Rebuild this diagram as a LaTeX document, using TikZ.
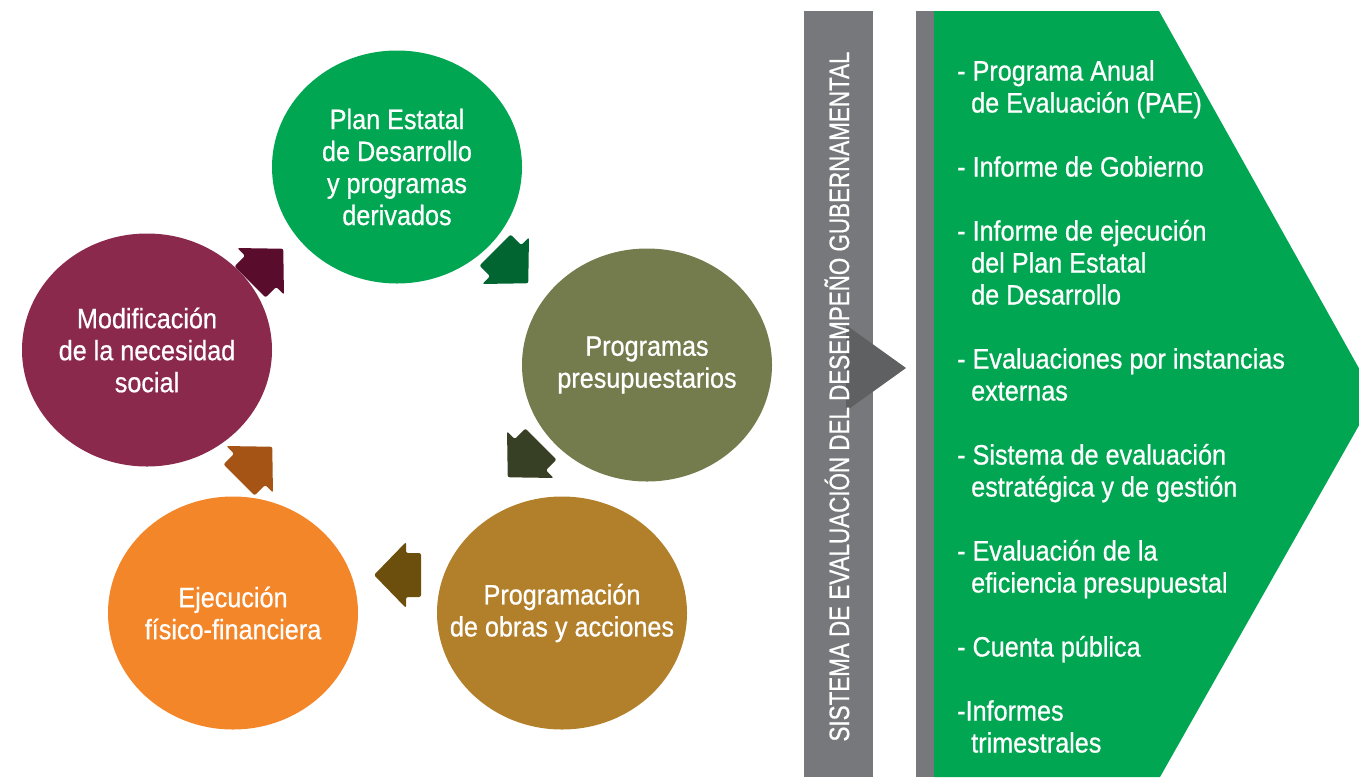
\documentclass[tikz,border=0pt]{standalone}
\usepackage{fontspec}
\setmainfont[FakeStretch=0.9,FakeBold=0.7]{Liberation Sans}
\newfontfamily\barfont[FakeStretch=0.8,FakeBold=0.7]{Liberation Sans}
\usetikzlibrary{shapes.geometric}

\definecolor{verde}{RGB}{0,166,81}
\definecolor{verdeosc}{RGB}{0,101,48}
\definecolor{olivo}{RGB}{116,124,78}
\definecolor{olivoosc}{RGB}{55,64,36}
\definecolor{ocre}{RGB}{178,128,42}
\definecolor{ocreosc}{RGB}{108,79,12}
\definecolor{naranja}{RGB}{244,134,42}
\definecolor{naranjaosc}{RGB}{165,84,22}
\definecolor{guinda}{RGB}{139,41,76}
\definecolor{guindaosc}{RGB}{90,12,44}
\definecolor{grisbarra}{RGB}{119,120,123}
\definecolor{grisosc}{RGB}{95,96,98}

\newcommand{\sangria}{\hspace*{14pt}}

\tikzset{
	blob/.style={ellipse,minimum width=250pt,minimum height=233pt,inner sep=0pt},
	lbl/.style={text=white,align=center,font=\fontsize{28}{32}\selectfont},
	pics/flecha/.style={code={
		\fill[#1,rounded corners=2pt] (-24,-22) -- (-9,-22) -- (-9,-33) -- (23,0)
			-- (-9,33) -- (-9,22) -- (-24,22) -- cycle;}}
}

\begin{document}
\begin{tikzpicture}[x=1pt,y=-1pt]
	\useasboundingbox (0,0) rectangle (1359,777);
	% ciclo
	\node[blob,fill=verde] (plan) at (397,167) {};
	\node[blob,fill=olivo] (presup) at (647,365) {};
	\node[blob,fill=ocre] (obras) at (562,613) {};
	\node[blob,fill=naranja] (ejec) at (233,613) {};
	\node[blob,fill=guinda] (modif) at (147,350) {};
	\node[lbl] at (plan) {Plan Estatal\\de Desarrollo\\y programas\\derivados};
	\node[lbl] at (presup) {Programas\\presupuestarios};
	\node[lbl] at (obras) {Programación\\de obras y acciones};
	\node[lbl] at (ejec) {Ejecución\\físico-financiera};
	\node[lbl] at (modif) {Modificación\\de la necesidad\\social};
	\pic[rotate=-45] at (512,267) {flecha=verdeosc};
	\pic[rotate=-135] at (524,461) {flecha=olivoosc};
	\pic[rotate=180] at (397,575) {flecha=ocreosc};
	\pic[rotate=45] at (256,463) {flecha=naranjaosc};
	\pic[rotate=45] at (267,265) {flecha=guindaosc};
	% barra
	\fill[grisbarra] (804,11) rectangle (873,777);
	\fill[grisosc] (846,325) -- (906,368) -- (846,411) -- cycle;
	\node[rotate=90,anchor=base,text=white,inner sep=0pt,
		font=\barfont\fontsize{28}{32}\selectfont] (titulo) at (849,396.5)
		{SISTEMA DE EVALUACIÓN DEL DESEMPEÑO GUBERNAMENTAL};
	% lista
	\fill[grisbarra] (916,11) rectangle (934,777);
	\fill[verde] (934,11) -- (1159,11) -- (1375,397) -- (1160,777) -- (934,777) -- cycle;
	\node[anchor=north west,inner sep=0pt,align=left,text=white,
		font=\fontsize{28}{32}\selectfont] (lista) at (957,60)
		{- Programa Anual\\
		\sangria de Evaluación (PAE)\\[32pt]
		- Informe de Gobierno\\[32pt]
		- Informe de ejecución\\
		\sangria del Plan Estatal\\
		\sangria de Desarrollo\\[32pt]
		- Evaluaciones por instancias\\
		\sangria externas\\[32pt]
		- Sistema de evaluación\\
		\sangria estratégica y de gestión\\[32pt]
		- Evaluación de la\\
		\sangria eficiencia presupuestal\\[32pt]
		- Cuenta pública\\[32pt]
		-Informes\\
		\sangria trimestrales};
\end{tikzpicture}
\end{document}
